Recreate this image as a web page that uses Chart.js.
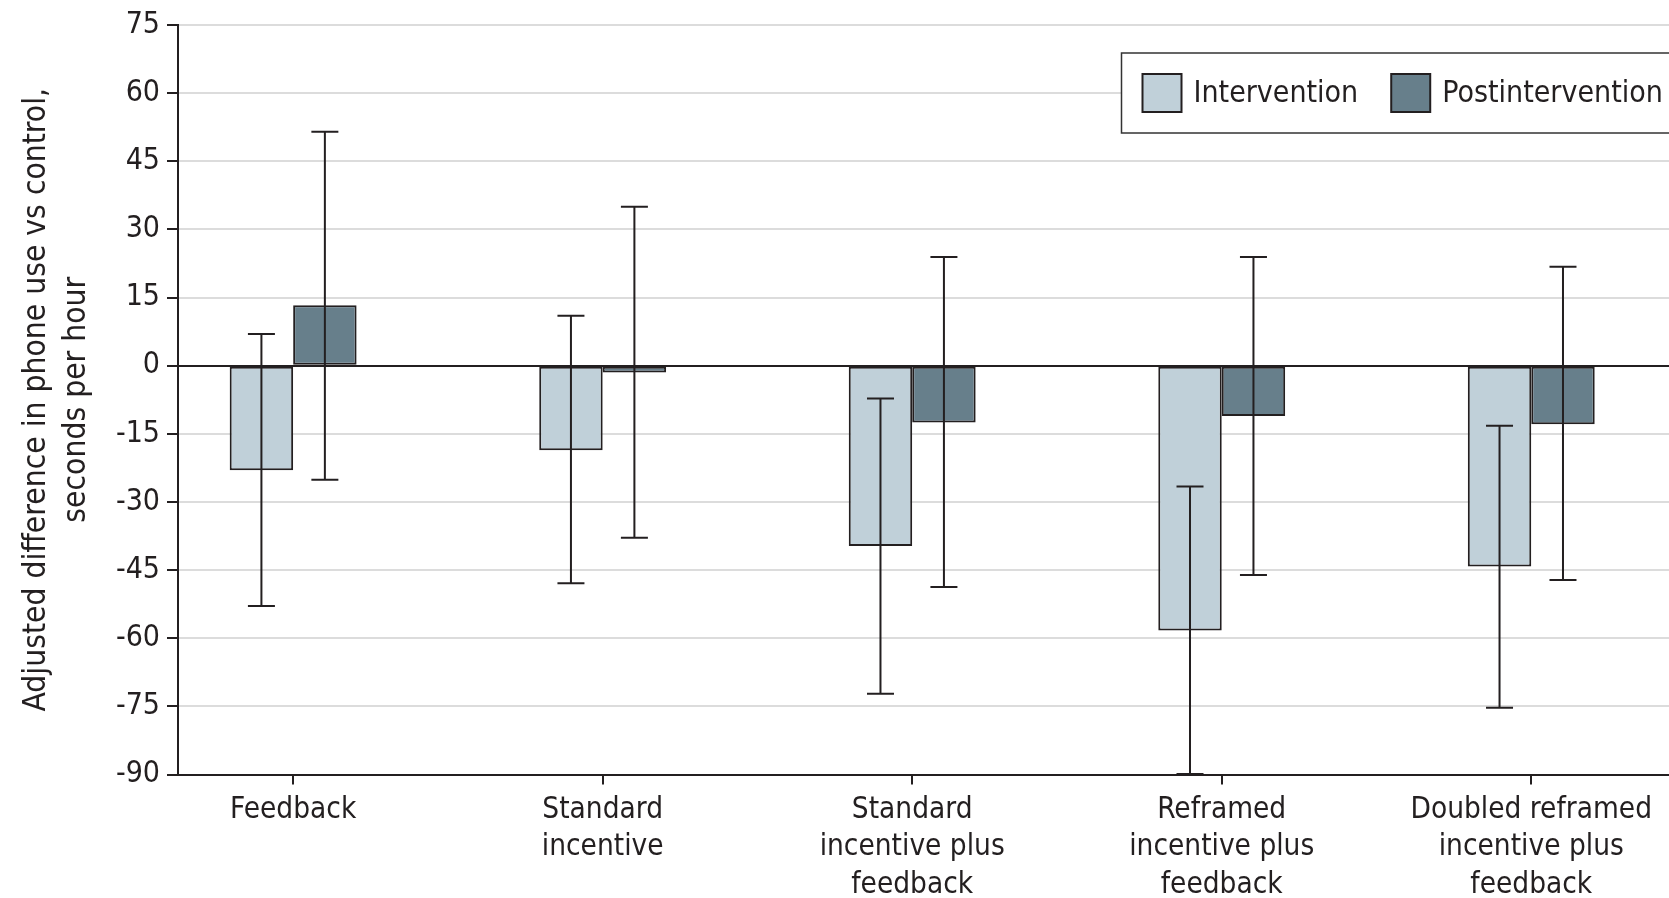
<!DOCTYPE html>
<html>
<head>
<meta charset="utf-8">
<title>Adjusted difference in phone use</title>
<script src="https://cdn.jsdelivr.net/npm/chart.js@4/dist/chart.umd.min.js"></script>
<style>
  html, body { margin: 0; padding: 0; background: #fff; overflow: hidden; }
  #wrap { position: relative; width: 1669px; height: 898px; }
</style>
</head>
<body>
<div id="wrap"><canvas id="chart"></canvas></div>
<script>
// ---- data ----
const categories = [
  ["Feedback"],
  ["Standard", "incentive"],
  ["Standard", "incentive plus", "feedback"],
  ["Reframed", "incentive plus", "feedback"],
  ["Doubled reframed", "incentive plus", "feedback"]
];
const seriesNames = ["Intervention", "Postintervention"];

const interventionValues = [-23.0, -18.6, -39.7, -58.3, -44.2];
const interventionLow = [-52.9, -47.9, -72.2, -89.9, -75.3];
const interventionHigh = [7.0, 11.0, -7.2, -26.6, -13.2];

const postValues = [13.3, -1.5, -12.5, -11.1, -12.9];
const postLow = [-25.1, -37.9, -48.7, -46.1, -47.2];
const postHigh = [51.5, 35.0, 23.9, 23.9, 21.8];

const yTicks = [75, 60, 45, 30, 15, 0, -15, -30, -45, -60, -75, -90];

// ---- styling ----
const FONT = "'DejaVu Sans Condensed', 'DejaVu Sans', sans-serif";
const INK = "#231f20";
const LIGHT = "#c0d0d9";
const DARK = "#677f8b";
const GRID = "#dcdcdc";

const positions = categories.map((c, i) => i + 1);

function points(values) {
  return values.map((v, i) => ({ x: positions[i], y: v }));
}

// error bars, drawn from the y scale
const errorBars = {
  id: "errorBars",
  afterDatasetsDraw(chart) {
    const ctx = chart.ctx;
    const y = chart.scales.y;
    ctx.save();
    ctx.strokeStyle = INK;
    ctx.lineWidth = 2;
    chart.data.datasets.forEach((ds, di) => {
      const meta = chart.getDatasetMeta(di);
      meta.data.forEach((bar, i) => {
        const top = y.getPixelForValue(ds.high[i]);
        const bot = y.getPixelForValue(ds.low[i]);
        const cap = 13.5;
        ctx.beginPath();
        ctx.moveTo(bar.x, top);
        ctx.lineTo(bar.x, bot);
        ctx.moveTo(bar.x - cap, top);
        ctx.lineTo(bar.x + cap, top);
        ctx.moveTo(bar.x - cap, bot);
        ctx.lineTo(bar.x + cap, bot);
        ctx.stroke();
      });
    });
    ctx.restore();
  }
};

// boxed legend inside the plot
const boxLegend = {
  id: "boxLegend",
  afterDraw(chart) {
    const ctx = chart.ctx;
    const area = chart.chartArea;
    const left = 1121.5, top = area.top + 28, h = 80;
    ctx.save();
    ctx.fillStyle = "#fff";
    ctx.fillRect(left, top, 700, h);
    ctx.strokeStyle = "#333";
    ctx.lineWidth = 1.5;
    ctx.strokeRect(left, top, 700, h);

    ctx.font = "30px " + FONT;
    ctx.textBaseline = "middle";
    let x = left + 21;
    const cy = top + h / 2;
    chart.data.datasets.forEach((ds) => {
      ctx.fillStyle = ds.backgroundColor;
      ctx.fillRect(x, cy - 19, 39, 38);
      ctx.strokeStyle = INK;
      ctx.lineWidth = 2;
      ctx.strokeRect(x, cy - 19, 39, 38);
      ctx.fillStyle = INK;
      ctx.fillText(ds.label, x + 51, cy + 1);
      x += 51 + ctx.measureText(ds.label).width + 33;
    });
    ctx.restore();
  }
};

new Chart(document.getElementById("chart"), {
  type: "bar",
  data: {
    datasets: [
      {
        label: seriesNames[0],
        data: points(interventionValues),
        low: interventionLow,
        high: interventionHigh,
        backgroundColor: LIGHT,
        borderColor: INK,
        borderWidth: 2,
        borderSkipped: false
      },
      {
        label: seriesNames[1],
        data: points(postValues),
        low: postLow,
        high: postHigh,
        backgroundColor: DARK,
        borderColor: INK,
        borderWidth: 2,
        borderSkipped: false
      }
    ]
  },
  options: {
    responsive: true,
    maintainAspectRatio: false,
    animation: false,
    layout: { padding: { top: 24, right: 0, bottom: 0, left: 0 } },
    datasets: { bar: { categoryPercentage: 0.41, barPercentage: 1 } },
    plugins: {
      legend: { display: false },
      tooltip: { enabled: false }
    },
    scales: {
      x: {
        type: "linear",
        min: 0.628,
        max: 5.445,
        offset: false,
        afterBuildTicks: (scale) => {
          scale.ticks = positions.map((p) => ({ value: p }));
        },
        afterFit: (scale) => { scale.height = 123.5; },
        grid: {
          offset: false,
          drawOnChartArea: false,
          color: INK,
          tickColor: INK,
          tickLength: 10,
          lineWidth: 2
        },
        border: { display: true, color: INK, width: 2 },
        ticks: {
          autoSkip: false,
          maxRotation: 0,
          padding: 7,
          color: INK,
          font: { family: FONT, size: 29.5, lineHeight: 1.27 },
          callback: (value) => categories[value - 1]
        }
      },
      y: {
        min: -90,
        max: 75,
        afterBuildTicks: (scale) => {
          scale.ticks = yTicks.map((v) => ({ value: v }));
        },
        afterFit: (scale) => { scale.width = 178; },
        grid: {
          color: (c) => (c.tick && c.tick.value === 0 ? INK : GRID),
          lineWidth: 2,
          tickColor: INK,
          tickLength: 11
        },
        border: { display: true, color: INK, width: 2 },
        ticks: {
          padding: 7,
          color: INK,
          font: { family: FONT, size: 30 }
        },
        title: {
          display: true,
          text: ["Adjusted difference in phone use vs control,", "seconds per hour"],
          color: INK,
          font: { family: FONT, size: 31.5, lineHeight: 1.27 },
          padding: { top: 17, bottom: 0 }
        }
      }
    }
  },
  plugins: [errorBars, boxLegend]
});
</script>
</body>
</html>
